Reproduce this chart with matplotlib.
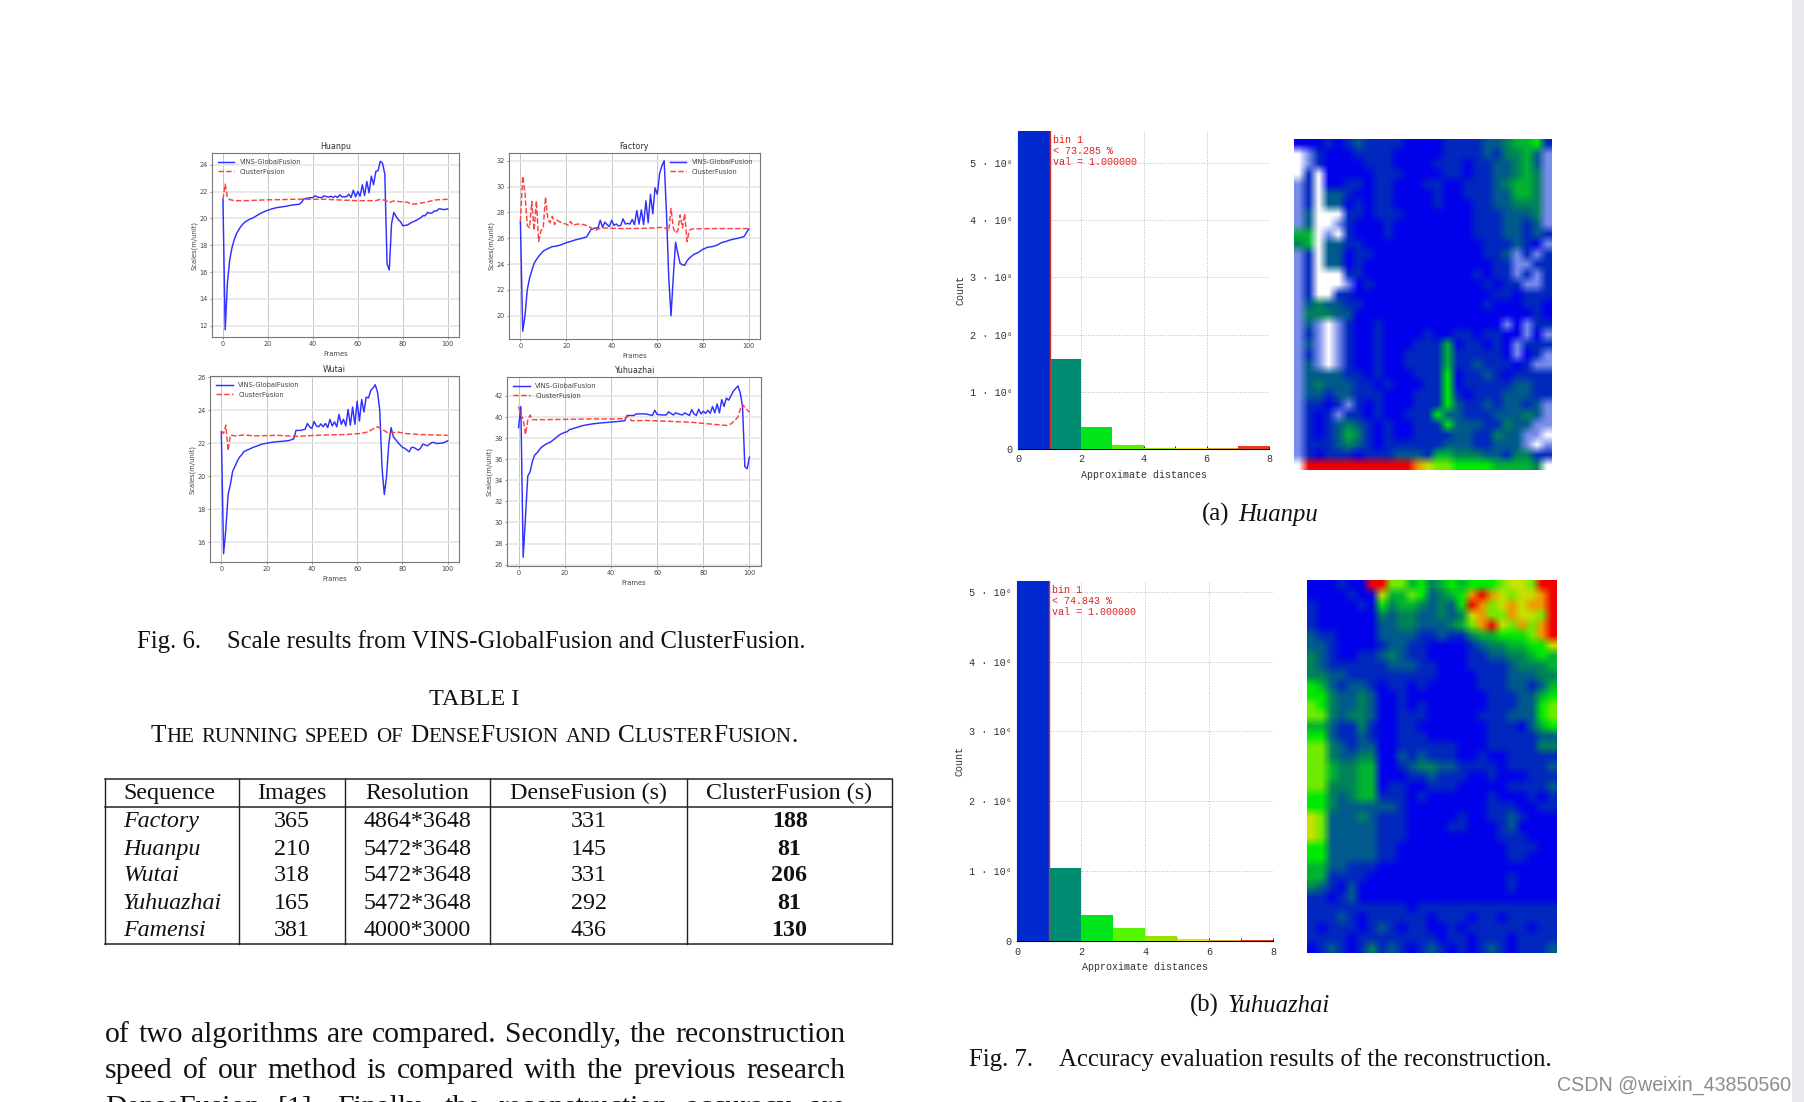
#!/usr/bin/python3
# Recreate the paper page: scale curves, running speed table, accuracy histograms.
import numpy as np
from matplotlib import pyplot as plt

W, H = 1804, 1102
SERIF = 'Liberation Serif'
MONO = ['Liberation Mono', 'DejaVu Sans Mono']

#--------------------------------------------
# Scale curves, (frame, scale) vertices
huanpu_blue_x = [0,1,2,3,4,5,6,7,8,9,10,11,12,13,14,15,16,17,18,19,20,22,24,26,28,30,32,34,35,36,38,40,41,42,43,44,45,46,47,48,49,50,51,52,53,54,55,56,57,58,59,60,61,62,63,64,65,66,67,68,69,70,71,72,73,74,75,76,77,78,79,80,82,84,86,88,89,90,91,92,93,94,95,96,97,98,100]
huanpu_blue_y = [21.4,11.7,15.2,16.9,17.8,18.4,18.85,19.15,19.4,19.6,19.75,19.85,19.95,20.0,20.1,20.2,20.3,20.4,20.47,20.55,20.6,20.72,20.8,20.85,20.9,20.97,21.02,21.05,21.2,21.45,21.52,21.55,21.68,21.6,21.55,21.55,21.68,21.62,21.58,21.65,21.55,21.66,21.55,21.75,21.6,21.6,21.62,21.8,21.55,22.1,21.6,22.0,21.65,22.5,21.7,22.75,21.9,23.15,22.5,23.5,23.55,24.25,24.1,23.3,16.6,16.15,19.6,20.45,20.15,19.9,19.75,19.45,19.5,19.7,19.85,20.05,20.2,20.2,20.45,20.38,20.4,20.55,20.55,20.7,20.7,20.65,20.7]
huanpu_red_x = [0,1,2,3,5,10,20,35,45,55,60,68,70,72,74,76,80,82,84,86,90,95,100]
huanpu_red_y = [21.4,22.55,21.55,21.4,21.32,21.32,21.38,21.43,21.42,21.35,21.32,21.32,21.42,21.35,21.18,21.3,21.22,21.2,21.05,21.08,21.2,21.38,21.42]

factory_blue_x = [0,1,2,3,4,5,6,7,8,9,10,12,14,16,18,20,22,24,26,29,31,33,34,35,36,37,38,39,40,41,42,43,44,45,46,47,48,49,50,51,52,53,54,55,56,57,58,59,60,61,62,63,64,65,66,67,68,69,70,71,72,73,74,75,76,78,80,82,84,86,88,90,92,94,96,98,100]
factory_blue_y = [27.3,18.8,20,22,22.9,23.5,24.05,24.35,24.6,24.8,25,25.2,25.35,25.4,25.5,25.65,25.75,25.87,25.95,26.1,26.7,26.8,26.8,27.4,26.85,27.25,27.05,26.9,27.4,27,27.1,26.95,27,27.5,27.1,27.15,27.1,27.45,27.05,28.15,27.1,28.2,27.05,28.9,27.2,29.4,27.9,29.9,29.4,31,31.6,32,28,23,20,23,25.7,24.8,24.05,23.95,23.9,24.25,24.45,24.6,24.75,24.9,25.15,25.3,25.35,25.45,25.65,25.75,25.87,25.95,26.03,26.13,26.7]
factory_red_x = [0,1,2,3,4,5,6,7,8,9,10,11,12,13,14,15,16,18,20,21,22,23,25,28,30,33,35,45,55,63,65,66,67,68,69,70,71,72,73,74,75,85,100]
factory_red_y = [27.3,30.8,29.5,27,26.8,28.85,26.6,28.9,25.75,26.6,26.8,29.2,27.5,27.2,27.7,27.05,27.4,27.2,27.1,27,27.3,27.0,27.1,27.05,26.9,26.6,26.8,26.75,26.77,26.85,26.55,28.3,26.8,26.4,26.6,27.8,26.8,27.9,25.75,26.6,26.72,26.75,26.75]

wutai_blue_x = [0,1,2,3,4,5,6,7,8,9,10,12,14,16,18,20,22,25,28,30,32,33,35,37,38,39,40,41,42,43,44,45,46,47,48,49,50,51,52,53,54,55,56,57,58,59,60,61,62,63,64,65,66,67,68,69,70,71,72,73,74,75,76,78,80,81,83,84,85,87,88,89,90,91,93,94,95,98,100]
wutai_blue_y = [22.7,15.3,16.8,18.9,19.5,20.3,20.6,20.9,21.15,21.3,21.5,21.62,21.75,21.85,21.95,22,22.05,22.1,22.13,22.17,22.27,22.78,22.78,22.85,23.2,23,22.9,23.32,23.05,23,23.18,23,23.2,22.95,23.45,23.05,23.3,23,23.75,23.15,23.45,23.05,24.05,23.1,24.2,23.15,24.55,23.35,24.65,23.9,24.8,24.75,25.2,25.35,25.55,25.1,24,20.5,18.9,20,22,22.95,22.4,22.05,21.75,21.7,21.48,21.75,21.75,21.58,21.7,21.95,21.9,21.85,22.05,22.05,21.98,22.02,22.15]
wutai_red_x = [0,1,2,3,4,6,10,15,25,33,45,55,62,65,68,69,71,74,76,78,82,88,95,100]
wutai_red_y = [22.75,22.6,23.1,21.55,22.5,22.45,22.5,22.45,22.48,22.42,22.5,22.53,22.6,22.7,22.95,23,22.85,22.6,22.65,22.68,22.58,22.53,22.5,22.48]

yuhua_blue_x = [0,1,2,3,4,5,6,7,8,9,10,12,14,16,18,20,21,22,25,28,32,36,40,44,46,47,50,51,55,58,59,60,62,64,65,67,68,70,71,72,74,75,76,77,78,79,80,81,82,83,84,85,86,87,88,89,90,91,93,95,96,97,98,99,100]
yuhua_blue_y = [39,41,26.7,30.5,34.4,34.8,35.8,36.4,36.6,36.9,37.15,37.45,37.65,38,38.35,38.55,38.6,38.8,39.0,39.2,39.35,39.45,39.52,39.6,39.65,40.15,40.15,40.3,40.3,40.15,40.65,40.25,40.2,40.2,40.5,40.2,40.4,40.25,40.2,40.4,40.15,40.7,40.3,40.15,40.75,40.3,40.55,40.35,40.65,40.35,41,40.4,41.25,40.4,41.65,41,41.8,41.6,42.45,42.95,42.3,41,35.3,35.1,36.2]
yuhua_red_x = [0,1,2,3,4,5,6,10,20,30,40,46,47,49,55,65,75,85,90,92,94,95,96,97,98,100]
yuhua_red_y = [41,40.2,39.8,38.35,39.7,40.2,39.75,39.75,39.78,39.82,39.82,39.85,40.1,39.65,39.68,39.6,39.5,39.3,39.2,39.35,39.75,40,40.7,41.2,40.9,40.45]

# Histograms, counts in units of 1e6
hist_edges = [0, 1, 2, 3, 4, 5, 6, 7, 8]
hist_a_counts = [5.57, 1.565, 0.385, 0.06, 0.012, 0.01, 0.01, 0.045]
hist_b_counts = [5.157, 1.05, 0.37, 0.18, 0.07, 0.03, 0.015, 0.02]
hist_colors = ['#0029d0', '#008c72', '#00e61a', '#55f500', '#a0e000', '#ecdf10', '#e0a030', '#e04020']
hist_ticks_y = [0, 1, 2, 3, 4, 5]
hist_ticks_labels = ['0', '1 · 10⁶', '2 · 10⁶', '3 · 10⁶', '4 · 10⁶', '5 · 10⁶']

# Table
table_header = ['Sequence', 'Images', 'Resolution', 'DenseFusion (s)', 'ClusterFusion (s)']
table_names = ['Factory', 'Huanpu', 'Wutai', 'Yuhuazhai', 'Famensi']
table_images = ['365', '210', '318', '165', '381']
table_res = ['4864*3648', '5472*3648', '5472*3648', '5472*3648', '4000*3000']
table_dense = ['331', '145', '331', '292', '436']
table_cluster = ['188', '81', '206', '81', '130']

# Point clouds as coarse error levels: 0 blue .. 5 green .. 9 red,
# dot = no points, comma = sparse points
cloud_a = [
    "00010121111000011112234451",
    ".,10001111000001111213342,",
    ".,10000111000011101122342,",
    ".1.0000011100001101122343,",
    ",1.0011011000110011123443,",
    ",1.2210011000010011122443,",
    ",1.2201011000010001122333,",
    ",2...11011100000001112223,",
    ",2..,10001000000001112212,",
    "44.,.100010000000011122121",
    "34.2211000000000000111210,",
    ",1.2201100000000000112,1,1",
    ",1.2201000000000000011,,11",
    ",1...11000000000001011,1,1",
    ",1...,01000000000001011,,1",
    ",1..1100000000000000110111",
    ",2322110000000000001000110",
    ",3332200000000000000000010",
    ",2,.,1001000000000000,0,11",
    ",1,.,100100001001101100,0,",
    ",2,.,10010001114011010,111",
    ",1,.,10010011114111110,01,",
    ",2,.,1001001111411211101,,",
    ",2222110100011150112101111",
    ",2322211010001150111112211",
    ",2212211100011151011122211",
    ",1101,1010001115211212212,",
    ",101,11010011152211122232,",
    ",10123210100111522211322,,",
    ",1012431010011112211322,,.",
    ",1112321011111122211222,.,",
    ",1011101112221443332213311",
    ".999999999998766555544443.",
]
cloud_b = [
    "0001009966453454555677699",
    "0000100744652345898767789",
    "1000010534432325986787889",
    "1000000323322323786687769",
    "1000000223322234689768689",
    "2110000222211211344555689",
    "2210000122110000123344557",
    "3210011232110000112233454",
    "3211111122211000111123334",
    "3322111111111000011122233",
    "5421221011010000011122124",
    "5532232001000000001112245",
    "6532232001010000001112256",
    "6632332001110000011122256",
    "4421131001100000001110245",
    "5521121001110000001111122",
    "6632122001111110001111133",
    "6632233002121110010011111",
    "6643344001233221111011112",
    "6643344000112111001000111",
    "6633344011001110000011112",
    "5532344111010000001000101",
    "5532222221000000001110011",
    "7622232111000001001121000",
    "7622222111000011000120000",
    "7622222111000000000111000",
    "5522222110000000000011100",
    "5522222110000000000011000",
    "4422111000000000000000000",
    "4411110000000000000010000",
    "3210200000000000000010000",
    "1101200000000000000000000",
    "1111111111011111111111111",
    "1112101111110111011011111",
    "1011101210110010111111011",
    "1111011111111011011101111",
    "0121013121012101012101112",
]
cloud_levels = {
    '0': (0, 0, 235), '1': (0, 40, 190), '2': (0, 90, 140), '3': (0, 130, 90), '4': (0, 180, 50),
    '5': (0, 235, 0), '6': (110, 235, 0), '7': (200, 225, 0), '8': (240, 150, 0), '9': (240, 0, 0),
    '.': (255, 255, 255), ',': (120, 140, 235),
}

#--------------------------------------------
fig = plt.figure(figsize=(W / 100, H / 100), dpi=100, facecolor='white')
page = fig.add_axes([0, 0, 1, 1])
page.set_xlim(0, W)
page.set_ylim(H, 0)
page.axis('off')
renderer = fig.canvas.get_renderer()

def rect(left, top, right, bottom):
    return [left / W, 1 - bottom / H, (right - left) / W, (bottom - top) / H]

def width_of(text, size, **kw):
    t = page.text(0, 0, text, fontsize=size, family=SERIF, **kw)
    w = t.get_window_extent(renderer).width
    t.remove()
    return w

def justified(text, x0, x1, y, size):
    words = text.split()
    widths = [width_of(w, size) for w in words]
    gap = (x1 - x0 - sum(widths)) / (len(words) - 1)
    x = x0
    for word, w in zip(words, widths):
        page.text(x, y, word, fontsize=size, family=SERIF, va='baseline', ha='left', color='#111111')
        x += w + gap

def small_caps(text, x0, x1, y, big, small):
    runs = []
    for word in text.split():
        parts = []
        for ch in word:
            size = small if ch.islower() else big
            if parts and parts[-1][1] == size:
                parts[-1][0] += ch.upper()
            else:
                parts.append([ch.upper(), size])
        runs.append(parts)
    total = sum(width_of(p[0], p[1]) for parts in runs for p in parts)
    gap = (x1 - x0 - total) / (len(runs) - 1)
    x = x0
    for parts in runs:
        for s, size in parts:
            page.text(x, y, s, fontsize=size, family=SERIF, va='baseline', color='#111111')
            x += width_of(s, size)
        x += gap

#--------------------------------------------
# Scale curves
curves = [
    ('Huanpu', (211.7, 153, 459, 337), (11.16, 24.87), range(12, 25, 2), huanpu_blue_x, huanpu_blue_y, huanpu_red_x, huanpu_red_y, 'upper left'),
    ('Factory', (509, 153, 760, 339), (18.2, 32.6), range(20, 33, 2), factory_blue_x, factory_blue_y, factory_red_x, factory_red_y, 'upper right'),
    ('Wutai', (210, 376, 459, 562), (14.8, 26.08), range(16, 27, 2), wutai_blue_x, wutai_blue_y, wutai_red_x, wutai_red_y, 'upper left'),
    ('Yuhuazhai', (507, 377, 761, 566), (25.87, 43.8), range(26, 43, 2), yuhua_blue_x, yuhua_blue_y, yuhua_red_x, yuhua_red_y, 'upper left'),
]
for name, box, ylim, yticks, bx, by, rx, ry, loc in curves:
    ax = fig.add_axes(rect(*box))
    ax.plot(bx, by, color='#3030ff', lw=1.05, label='VINS-GlobalFusion')
    ax.plot(rx, ry, color='#ff4040', lw=1.05, ls='--', label='ClusterFusion')
    ax.set_xlim(-5, 105)
    ax.set_ylim(*ylim)
    ax.set_xticks([0, 20, 40, 60, 80, 100])
    ax.set_yticks(list(yticks))
    ax.xaxis.grid(True, color='#c6c6c6', lw=0.7)
    ax.yaxis.grid(True, color='#e4e4e4', lw=1.1)
    ax.set_axisbelow(True)
    ax.tick_params(labelsize=4.7, length=1.5, width=0.4, pad=1.5, colors='#444444')
    ax.set_xlabel('Frames', fontsize=4.9, labelpad=2.5, color='#444444')
    ax.set_ylabel('Scales(m/unit)', fontsize=4.9, labelpad=1.5, color='#444444')
    ax.set_title(name, fontsize=5.8, pad=3, color='#333333')
    for s in ax.spines.values():
        s.set_color('#777777')
        s.set_linewidth(0.8)
    ax.legend(loc=loc, fontsize=4.9, frameon=False, handlelength=2.4, labelspacing=0.45, borderaxespad=0.55, labelcolor='#444444')

#--------------------------------------------
# Histograms
hists = [
    ((1018.3, 130.7, 1269.3, 448.7), 5.57, hist_a_counts, ['bin 1', '< 73.285 %', 'val = 1.000000']),
    ((1017.3, 580.7, 1273, 941), 5.157, hist_b_counts, ['bin 1', '< 74.843 %', 'val = 1.000000']),
]
for box, ymax, counts, notes in hists:
    ax = fig.add_axes(rect(*box))
    ax.bar(hist_edges[:-1], counts, width=1, align='edge', color=hist_colors, zorder=3)
    ax.axvline(1, color='#d03030', lw=1.0, zorder=4)
    ax.set_xlim(0, 8)
    ax.set_ylim(0, ymax)
    ax.set_xticks([0, 2, 4, 6, 8])
    ax.set_xticks(hist_edges, minor=True)
    ax.set_yticks(hist_ticks_y)
    ax.set_yticklabels(hist_ticks_labels)
    ax.set_yticks(np.arange(0.5, ymax, 1), minor=True)
    ax.grid(True, which='major', color='#bcbcbc', lw=0.7, ls=':')
    ax.set_axisbelow(True)
    ax.tick_params(which='both', direction='in', length=2.5, width=0.6, pad=4)
    for label in ax.get_xticklabels() + ax.get_yticklabels():
        label.set_fontfamily(MONO)
        label.set_fontsize(7.3)
        label.set_color('#333333')
    ax.set_xlabel('Approximate distances', fontsize=7.2, family=MONO, labelpad=4, color='#333333')
    ax.set_ylabel('Count', fontsize=7.2, family=MONO, labelpad=3, color='#333333')
    ax.spines['top'].set_visible(False)
    ax.spines['right'].set_visible(False)
    ax.patch.set_alpha(0)
    for i, note in enumerate(notes):
        ax.annotate(note, xy=(1, 1), xycoords=('data', 'axes fraction'), xytext=(3, -9 - 11 * i),
                    textcoords='offset pixels', fontsize=7.2, family=MONO,
                    color='#e02020', va='center', ha='left', zorder=6)

#--------------------------------------------
# Point clouds
for grid, box, cols in ((cloud_a, (1294, 139, 1552, 470), 26), (cloud_b, (1307, 580, 1557, 953), 25)):
    rgb = np.array([[cloud_levels[c] for c in r.ljust(cols, '.')[:cols]] for r in grid], dtype=float) / 255
    ax = fig.add_axes(rect(*box))
    ax.imshow(rgb, aspect='auto', interpolation='bilinear')
    ax.axis('off')

#--------------------------------------------
# Table, captions and body text
page.text(137, 648, 'Fig. 6.', fontsize=17.8, family=SERIF, va='baseline', color='#111111')
page.text(227, 648, 'Scale results from VINS-GlobalFusion and ClusterFusion.', fontsize=17.8, family=SERIF, va='baseline', color='#111111')
page.text(474, 705, 'TABLE I', fontsize=17.5, family=SERIF, va='baseline', ha='center', color='#111111')
small_caps('The running speed of DenseFusion and ClusterFusion.', 151, 798, 741.5, 18.2, 15)

col_lines = [104.7, 239.3, 345, 490, 687, 892]
for x in col_lines:
    page.plot([x, x], [779, 944], color='#222222', lw=1.0)
for y in (779, 806.5, 944):
    page.plot([104.7, 892], [y, y], color='#222222', lw=1.1)
col_centers = [123, 292, 417.5, 588.5, 789.5]
row_y = [799, 827, 855, 881, 909, 936]
for i, label in enumerate(table_header):
    page.text(col_centers[i], row_y[0], label, fontsize=17.3, family=SERIF, va='baseline', ha='left' if i == 0 else 'center', color='#111111')
for i in range(5):
    y = row_y[i + 1]
    page.text(col_centers[0], y, table_names[i], fontsize=17.3, family=SERIF, style='italic', va='baseline', color='#111111')
    page.text(col_centers[1], y, table_images[i], fontsize=17.3, family=SERIF, va='baseline', ha='center', color='#111111')
    page.text(col_centers[2], y, table_res[i], fontsize=17.3, family=SERIF, va='baseline', ha='center', color='#111111')
    page.text(col_centers[3], y, table_dense[i], fontsize=17.3, family=SERIF, va='baseline', ha='center', color='#111111')
    page.text(col_centers[4], y, table_cluster[i], fontsize=17.3, family=SERIF, weight='bold', va='baseline', ha='center', color='#111111')

justified('of two algorithms are compared. Secondly, the reconstruction', 105, 845, 1042, 21.3)
justified('speed of our method is compared with the previous research', 105, 845, 1078, 21.3)
justified('DenseFusion [1]. Finally, the reconstruction accuracy are', 105, 845, 1115, 21.3)

page.text(1202, 521, '(a)', fontsize=17.8, family=SERIF, va='baseline', ha='left', color='#111111')
page.text(1238, 521, 'Huanpu', fontsize=17.8, family=SERIF, style='italic', va='baseline', ha='left', color='#111111')
page.text(1190, 1012, '(b)', fontsize=17.8, family=SERIF, va='baseline', ha='left', color='#111111')
page.text(1228, 1012, 'Yuhuazhai', fontsize=17.8, family=SERIF, style='italic', va='baseline', color='#111111')
page.text(969, 1066, 'Fig. 7.', fontsize=17.8, family=SERIF, va='baseline', color='#111111')
page.text(1059, 1066, 'Accuracy evaluation results of the reconstruction.', fontsize=17.8, family=SERIF, va='baseline', color='#111111')

# Watermark and the window edge
page.text(1557, 1091, 'CSDN @weixin_43850560', fontsize=14.1, family='Liberation Sans', va='baseline', color='#8d8d8d')
page.fill_betweenx([0, H], 1792, W, color='#e9e9ee', lw=0)
page.set_xlim(0, W)
page.set_ylim(H, 0)

fig.savefig('out.png', dpi=100)
